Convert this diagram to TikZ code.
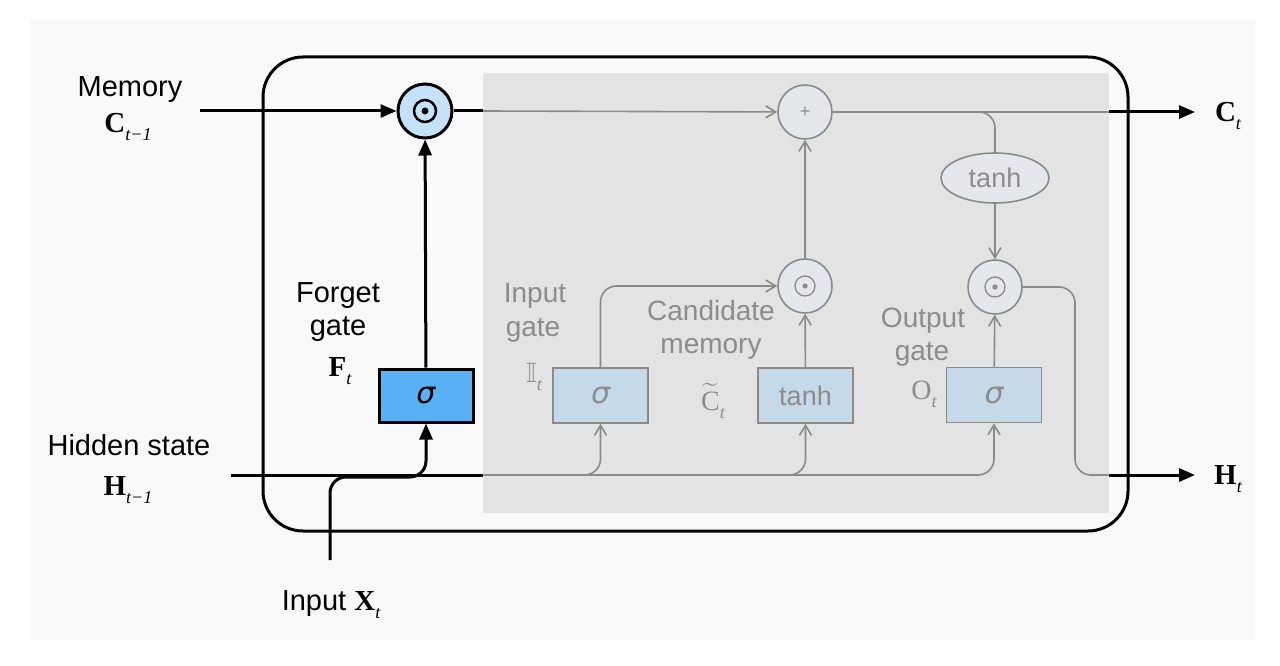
\documentclass[tikz,border=0pt]{standalone}
\usepackage{fontspec}
\usepackage{amssymb}
\setmainfont{Liberation Sans}
\newfontfamily\tms{Liberation Serif}
\newfontfamily\djv{DejaVu Sans}
\usetikzlibrary{arrows.meta,shapes.geometric,calc}
\definecolor{panel}{HTML}{F9F9F9}
\definecolor{gregion}{HTML}{E3E3E3}
\definecolor{fblue}{HTML}{5AB0F5}
\definecolor{cblue}{HTML}{C5E2FA}
\definecolor{gboxfill}{HTML}{C6D9E8}
\definecolor{gborder}{HTML}{8A8A8A}
\definecolor{gcirc}{HTML}{E4E7EB}
\definecolor{gtext}{HTML}{8C8C8C}
\newcommand{\lsub}[1]{\raisebox{-8pt}{\fontsize{18}{20}\selectfont\tms\mdseries\itshape #1}}
\begin{document}
\begin{tikzpicture}[x=1pt,y=-1pt,
  blk/.style={line width=3pt, draw=black},
  gl/.style={line width=1.6pt, draw=gborder},
  barrow/.style={-{Triangle[length=16pt,width=13pt]}},
  garrow/.style={-{Straight Barb[length=10pt,width=12pt]}},
  blab/.style={font=\fontsize{29}{32}\selectfont, text=black, anchor=base, inner sep=0pt},
  glab/.style={font=\fontsize{28}{32}\selectfont, text=gtext, anchor=base, inner sep=0pt},
  fsigst/.style={draw=black, line width=3pt, fill=fblue, minimum width=94pt, minimum height=53pt, inner sep=0pt, font=\fontsize{30}{32}\selectfont\djv\itshape},
  gbox/.style={draw=gborder, line width=1.6pt, fill=gboxfill, minimum width=95pt, minimum height=55pt, inner sep=0pt, text=gtext, font=\fontsize{27}{30}\selectfont},
  fmulst/.style={circle, draw=black, line width=3pt, fill=cblue, minimum size=54pt, inner sep=0pt},
  gmulst/.style={circle, draw=gborder, line width=1.6pt, fill=gcirc, minimum size=54pt, inner sep=0pt, text=gtext},
  tanhst/.style={ellipse, draw=gborder, line width=1.6pt, fill=gcirc, minimum width=108pt, minimum height=50pt, inner sep=0pt, text=gtext, font=\fontsize{27}{30}\selectfont}
]
\useasboundingbox (0,0) rectangle (1280,666);
\fill[white] (0,0) rectangle (1280,666);
\fill[panel] (30,20) rectangle (1255,640);
% grey region and cell
\fill[gregion] (483,73) rectangle (1109,513);
\draw[line width=3pt, rounded corners=40pt] (263,57) rectangle (1128,531);

% coordinates
\coordinate (memin) at (200,111);
\coordinate (gb1) at (483,111);
\coordinate (cb) at (1109,112);
\coordinate (cend) at (1195,112);
\coordinate (hin) at (231,475);
\coordinate (hb0) at (483,475);
\coordinate (hj) at (1075,475);
\coordinate (hb) at (1109,475);
\coordinate (hend) at (1195,475);
\coordinate (xin) at (330,560);
\coordinate (ja) at (426,477);

% nodes
\node[fmulst] (fmul) at (425,111) {};
\node[fsigst] (fsig) at (426,395.5) {σ};
\node[gmulst, font=\fontsize{18}{20}\selectfont] (plus) at (805,112) {+};
\node[gmulst] (imul) at (805,286) {};
\node[gmulst] (omul) at (995,287) {};
\node[gbox, font=\fontsize{30}{32}\selectfont\djv\itshape] (isig) at (600.5,395.5) {σ};
\node[gbox] (tbox) at (805.5,395.5) {tanh};
\node[gbox, font=\fontsize{30}{32}\selectfont\djv\itshape] (osig) at (994,395) {σ};
\node[tanhst] (tanh) at (995,178) {tanh};

% multiplication marks
\draw[line width=2.5pt] (fmul.center) circle[radius=11pt];
\fill (fmul.center) circle[radius=3.5pt];
\foreach \n in {imul,omul}{
  \draw[gborder, line width=1.3pt] (\n.center) circle[radius=10pt];
  \fill[gborder] (\n.center) circle[radius=2.6pt];
}

% memory path
\draw[blk, barrow] (memin) -- (fmul);
\draw[blk] (fmul) -- (gb1);
\draw[gl, garrow] (gb1) -- (plus);
\draw[gl] (plus) -- (cb);
\draw[blk, barrow] (cb) -- (cend);
\draw[gl, rounded corners=16pt] (plus.east) -| (tanh.north);
\draw[gl, garrow] (tanh) -- (omul);
\draw[gl, rounded corners=16pt] (omul.east) -| (hj) -- (hb);
\draw[blk, barrow] (hb) -- (hend);
\draw[gl, garrow] (osig) -- (omul);
\draw[gl, garrow, rounded corners=16pt] (isig.north) |- (imul.west);
\draw[gl, garrow] (tbox) -- (imul);
\draw[gl, garrow] (imul) -- (plus);
\draw[blk, barrow] (fsig) -- (fmul);

% hidden state path
\draw[blk] (hin) -- (hb0);
\draw[gl, garrow, rounded corners=16pt] (hb0) -| (isig.south);
\draw[gl, garrow, rounded corners=16pt] (hb0) -| (tbox.south);
\draw[gl, garrow, rounded corners=16pt] (hb0) -| (osig.south);
\draw[blk, barrow, rounded corners=16pt] (xin) |- (ja) -- (fsig.south);

% labels
\node[blab] (memlab) at (130,97) {Memory};
\node[blab] (memsym) at (128,133) {\tms\bfseries C\lsub{t−1}};
\node[blab] (hidlab) at (129,455) {Hidden state};
\node[blab] (hidsym) at (128,495) {\tms\bfseries H\lsub{t−1}};
\node[blab] (inlab) at (331,610) {Input {\tms\bfseries X}\lsub{t}};
\node[blab] (fglab1) at (338,302) {Forget};
\node[blab] (fglab2) at (338,335) {gate};
\node[blab] (fgsym) at (340,376) {\tms\bfseries F\lsub{t}};
\node[blab] (ctlab) at (1228,122) {\tms\bfseries C\lsub{t}};
\node[blab] (htlab) at (1228,484) {\tms\bfseries H\lsub{t}};

\node[glab] (iglab1) at (535,302) {Input};
\node[glab] (iglab2) at (533,336) {gate};
\node[glab] (igsym) at (534,382) {$\mathbb{I}$\lsub{t}};
\node[glab] (cmlab1) at (711,320) {Candidate};
\node[glab] (cmlab2) at (711,353) {memory};
\node[glab] (cmsym) at (713,410) {\tms$\widetilde{\mbox{C}}$\lsub{t}};
\node[glab] (oglab1) at (923,327) {Output};
\node[glab] (oglab2) at (922,360) {gate};
\node[glab] (ogsym) at (924,399) {\tms O\lsub{t}};
\end{tikzpicture}
\end{document}
